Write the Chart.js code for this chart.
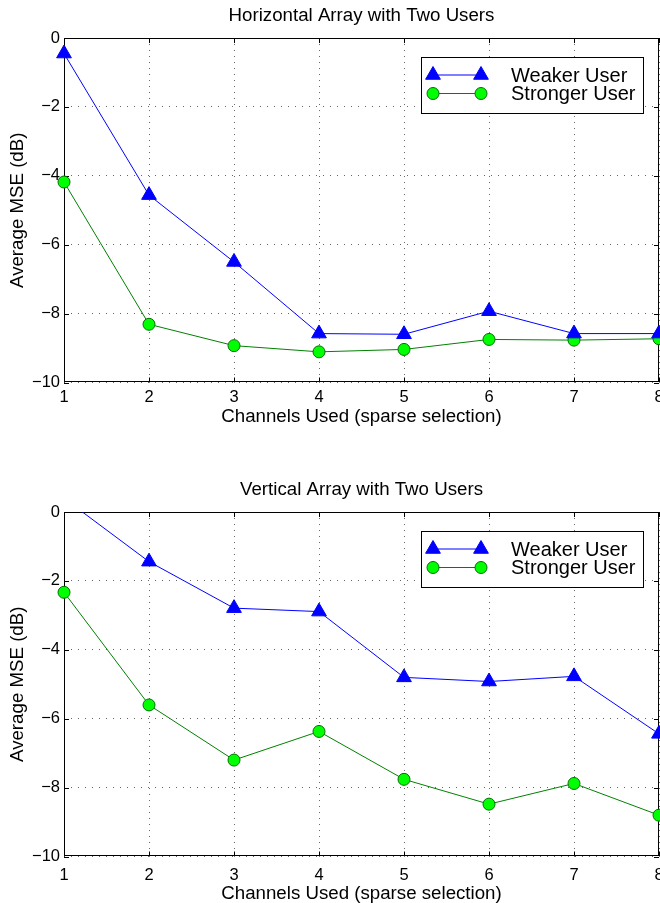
<!DOCTYPE html>
<html>
<head>
<meta charset="utf-8">
<script src="https://cdn.jsdelivr.net/npm/chart.js@4.4.1/dist/chart.umd.min.js"></script>
<style>
  html, body { margin: 0; padding: 0; background: #fff; overflow: hidden; width: 660px; height: 903px; }
  .panel { position: absolute; left: 0; width: 720px; height: 450px; }
  #top { top: 0; }
  #bottom { top: 474px; }
</style>
</head>
<body>
<div class="panel" id="top"><canvas id="horiz" width="720" height="450"></canvas></div>
<div class="panel" id="bottom"><canvas id="vert" width="720" height="450"></canvas></div>
<script>
// values (dB)
const channels = [1, 2, 3, 4, 5, 6, 7, 8];
const horizWeaker   = [-0.45, -4.56, -6.5, -8.58, -8.6, -7.93, -8.58, -8.58];
const horizStronger = [-4.18, -8.31, -8.93, -9.11, -9.04, -8.75, -8.77, -8.73];
const vertWeaker    = [0.4, -1.44, -2.79, -2.89, -4.8, -4.92, -4.77, -6.44];
const vertStronger  = [-2.33, -5.6, -7.2, -6.37, -7.76, -8.48, -7.88, -8.8];
const seriesLabels = ['Weaker User', 'Stronger User'];
const xTicks = [1, 2, 3, 4, 5, 6, 7, 8];
const yTicks = [0, -2, -4, -6, -8, -10];

Chart.defaults.font.family = '"Liberation Sans", Arial, Helvetica, sans-serif';
Chart.defaults.color = '#000';

// box round the plot with short inward ticks on all four sides
const matlabAxes = {
  id: 'matlabAxes',
  beforeDatasetsDraw(chart) {
    const {ctx, chartArea: a, scales: {x, y}} = chart;
    ctx.save();
    ctx.strokeStyle = '#000';
    ctx.lineWidth = 1;
    ctx.beginPath();
    xTicks.forEach(v => {
      const px = Math.round(x.getPixelForValue(v)) + 0.5;
      ctx.moveTo(px, a.bottom); ctx.lineTo(px, a.bottom - 5);
      ctx.moveTo(px, a.top); ctx.lineTo(px, a.top + 5);
    });
    yTicks.forEach(v => {
      const py = Math.round(y.getPixelForValue(v)) + 0.5;
      ctx.moveTo(a.left, py); ctx.lineTo(a.left + 5, py);
      ctx.moveTo(a.right, py); ctx.lineTo(a.right - 5, py);
    });
    ctx.stroke();
    ctx.strokeRect(Math.round(a.left) + 0.5, Math.round(a.top) + 0.5,
                   Math.round(a.width) - 1, Math.round(a.height) - 1);
    ctx.restore();
  }
};

function marker(ctx, ds, px, py) {
  ctx.fillStyle = ds.pointBackgroundColor;
  ctx.strokeStyle = ds.pointBorderColor;
  ctx.lineWidth = ds.pointBorderWidth;
  Chart.helpers.drawPoint(ctx, {
    pointStyle: ds.pointStyle, radius: ds.pointRadius,
    borderWidth: ds.pointBorderWidth, rotation: 0
  }, px, py);
}

// matlab style legend: marker - line - marker, then the label
const matlabLegend = {
  id: 'matlabLegend',
  afterDatasetsDraw(chart) {
    const {ctx, chartArea: a} = chart;
    const w = 222, h = 56;
    const left = Math.round(a.right - 16 - w), top = Math.round(a.top + 19);
    ctx.save();
    ctx.fillStyle = '#fff';
    ctx.fillRect(left, top, w, h);
    ctx.strokeStyle = '#000';
    ctx.lineWidth = 1;
    ctx.strokeRect(left + 0.5, top + 0.5, w, h);
    chart.data.datasets.forEach((ds, i) => {
      const cy = top + 18 + i * 18.5;
      const x1 = left + 12, x2 = left + 60;
      ctx.strokeStyle = ds.borderColor;
      ctx.lineWidth = 1;
      ctx.beginPath(); ctx.moveTo(x1, cy); ctx.lineTo(x2, cy); ctx.stroke();
      marker(ctx, ds, x1, cy);
      marker(ctx, ds, x2, cy);
      ctx.fillStyle = '#000';
      ctx.font = '20px "Liberation Sans", Arial, sans-serif';
      ctx.textBaseline = 'middle';
      ctx.textAlign = 'left';
      ctx.fillText(ds.label, left + 90, top + 19.5 + i * 17.5);
    });
    ctx.restore();
  }
};

const minus = v => String(v).replace('-', '\u2212');

function makeChart(id, title, weaker, stronger, tickPad, xBoxH) {
  new Chart(document.getElementById(id), {
    type: 'line',
    data: {
      datasets: [{
        label: seriesLabels[0],
        data: channels.map((c, i) => ({x: c, y: weaker[i]})),
        borderColor: '#0000ff',
        borderWidth: 1,
        pointStyle: 'triangle',
        pointRadius: 8.5,
        pointBackgroundColor: '#0000ff',
        pointBorderColor: '#0000ff',
        pointBorderWidth: 1,
        tension: 0,
        clip: {left: 12, top: 0, right: 12, bottom: 12}
      }, {
        label: seriesLabels[1],
        data: channels.map((c, i) => ({x: c, y: stronger[i]})),
        borderColor: '#008000',
        borderWidth: 1,
        pointStyle: 'circle',
        pointRadius: 6,
        pointBackgroundColor: '#00ff00',
        pointBorderColor: '#007000',
        pointBorderWidth: 1,
        tension: 0,
        clip: {left: 12, top: 0, right: 12, bottom: 12}
      }]
    },
    options: {
      responsive: false,
      animation: false,
      events: [],
      devicePixelRatio: 1,
      layout: { padding: {top: 0, left: 0, right: 61, bottom: 450 - 382.5 - xBoxH} },
      plugins: {
        legend: { display: false },
        tooltip: { enabled: false },
        title: {
          display: true, fullSize: false, text: title, color: '#000',
          font: {size: 18.7, weight: 'normal'},
          padding: {top: 5, bottom: 10.6}
        }
      },
      scales: {
        x: {
          type: 'linear', min: 1, max: 8,
          afterFit: s => { s.height = xBoxH; },
          ticks: { stepSize: 1, font: {size: 16.5}, color: '#000', padding: tickPad, maxRotation: 0 },
          grid: { color: '#666', lineWidth: 1, drawTicks: false },
          border: { display: false, dash: [1, 5] },
          title: { display: true, text: 'Channels Used (sparse selection)', color: '#000',
                   font: {size: 18.7}, padding: {top: 0, bottom: 2} }
        },
        y: {
          min: -10, max: 0,
          afterFit: s => { s.width = 64; },
          ticks: { stepSize: 2, font: {size: 16.5}, color: '#000', padding: 4, callback: minus },
          grid: { color: '#666', lineWidth: 1, drawTicks: false },
          border: { display: false, dash: [1, 6] },
          title: { display: true, text: 'Average MSE (dB)', color: '#000',
                   font: {size: 18.7}, padding: {top: 6.3, bottom: 0} }
        }
      }
    },
    plugins: [matlabAxes, matlabLegend]
  });
}

makeChart('horiz', 'Horizontal Array with Two Users', horizWeaker, horizStronger, 5, 47.3);
makeChart('vert', 'Vertical Array with Two Users', vertWeaker, vertStronger, 9, 50.3);
</script>
</body>
</html>
